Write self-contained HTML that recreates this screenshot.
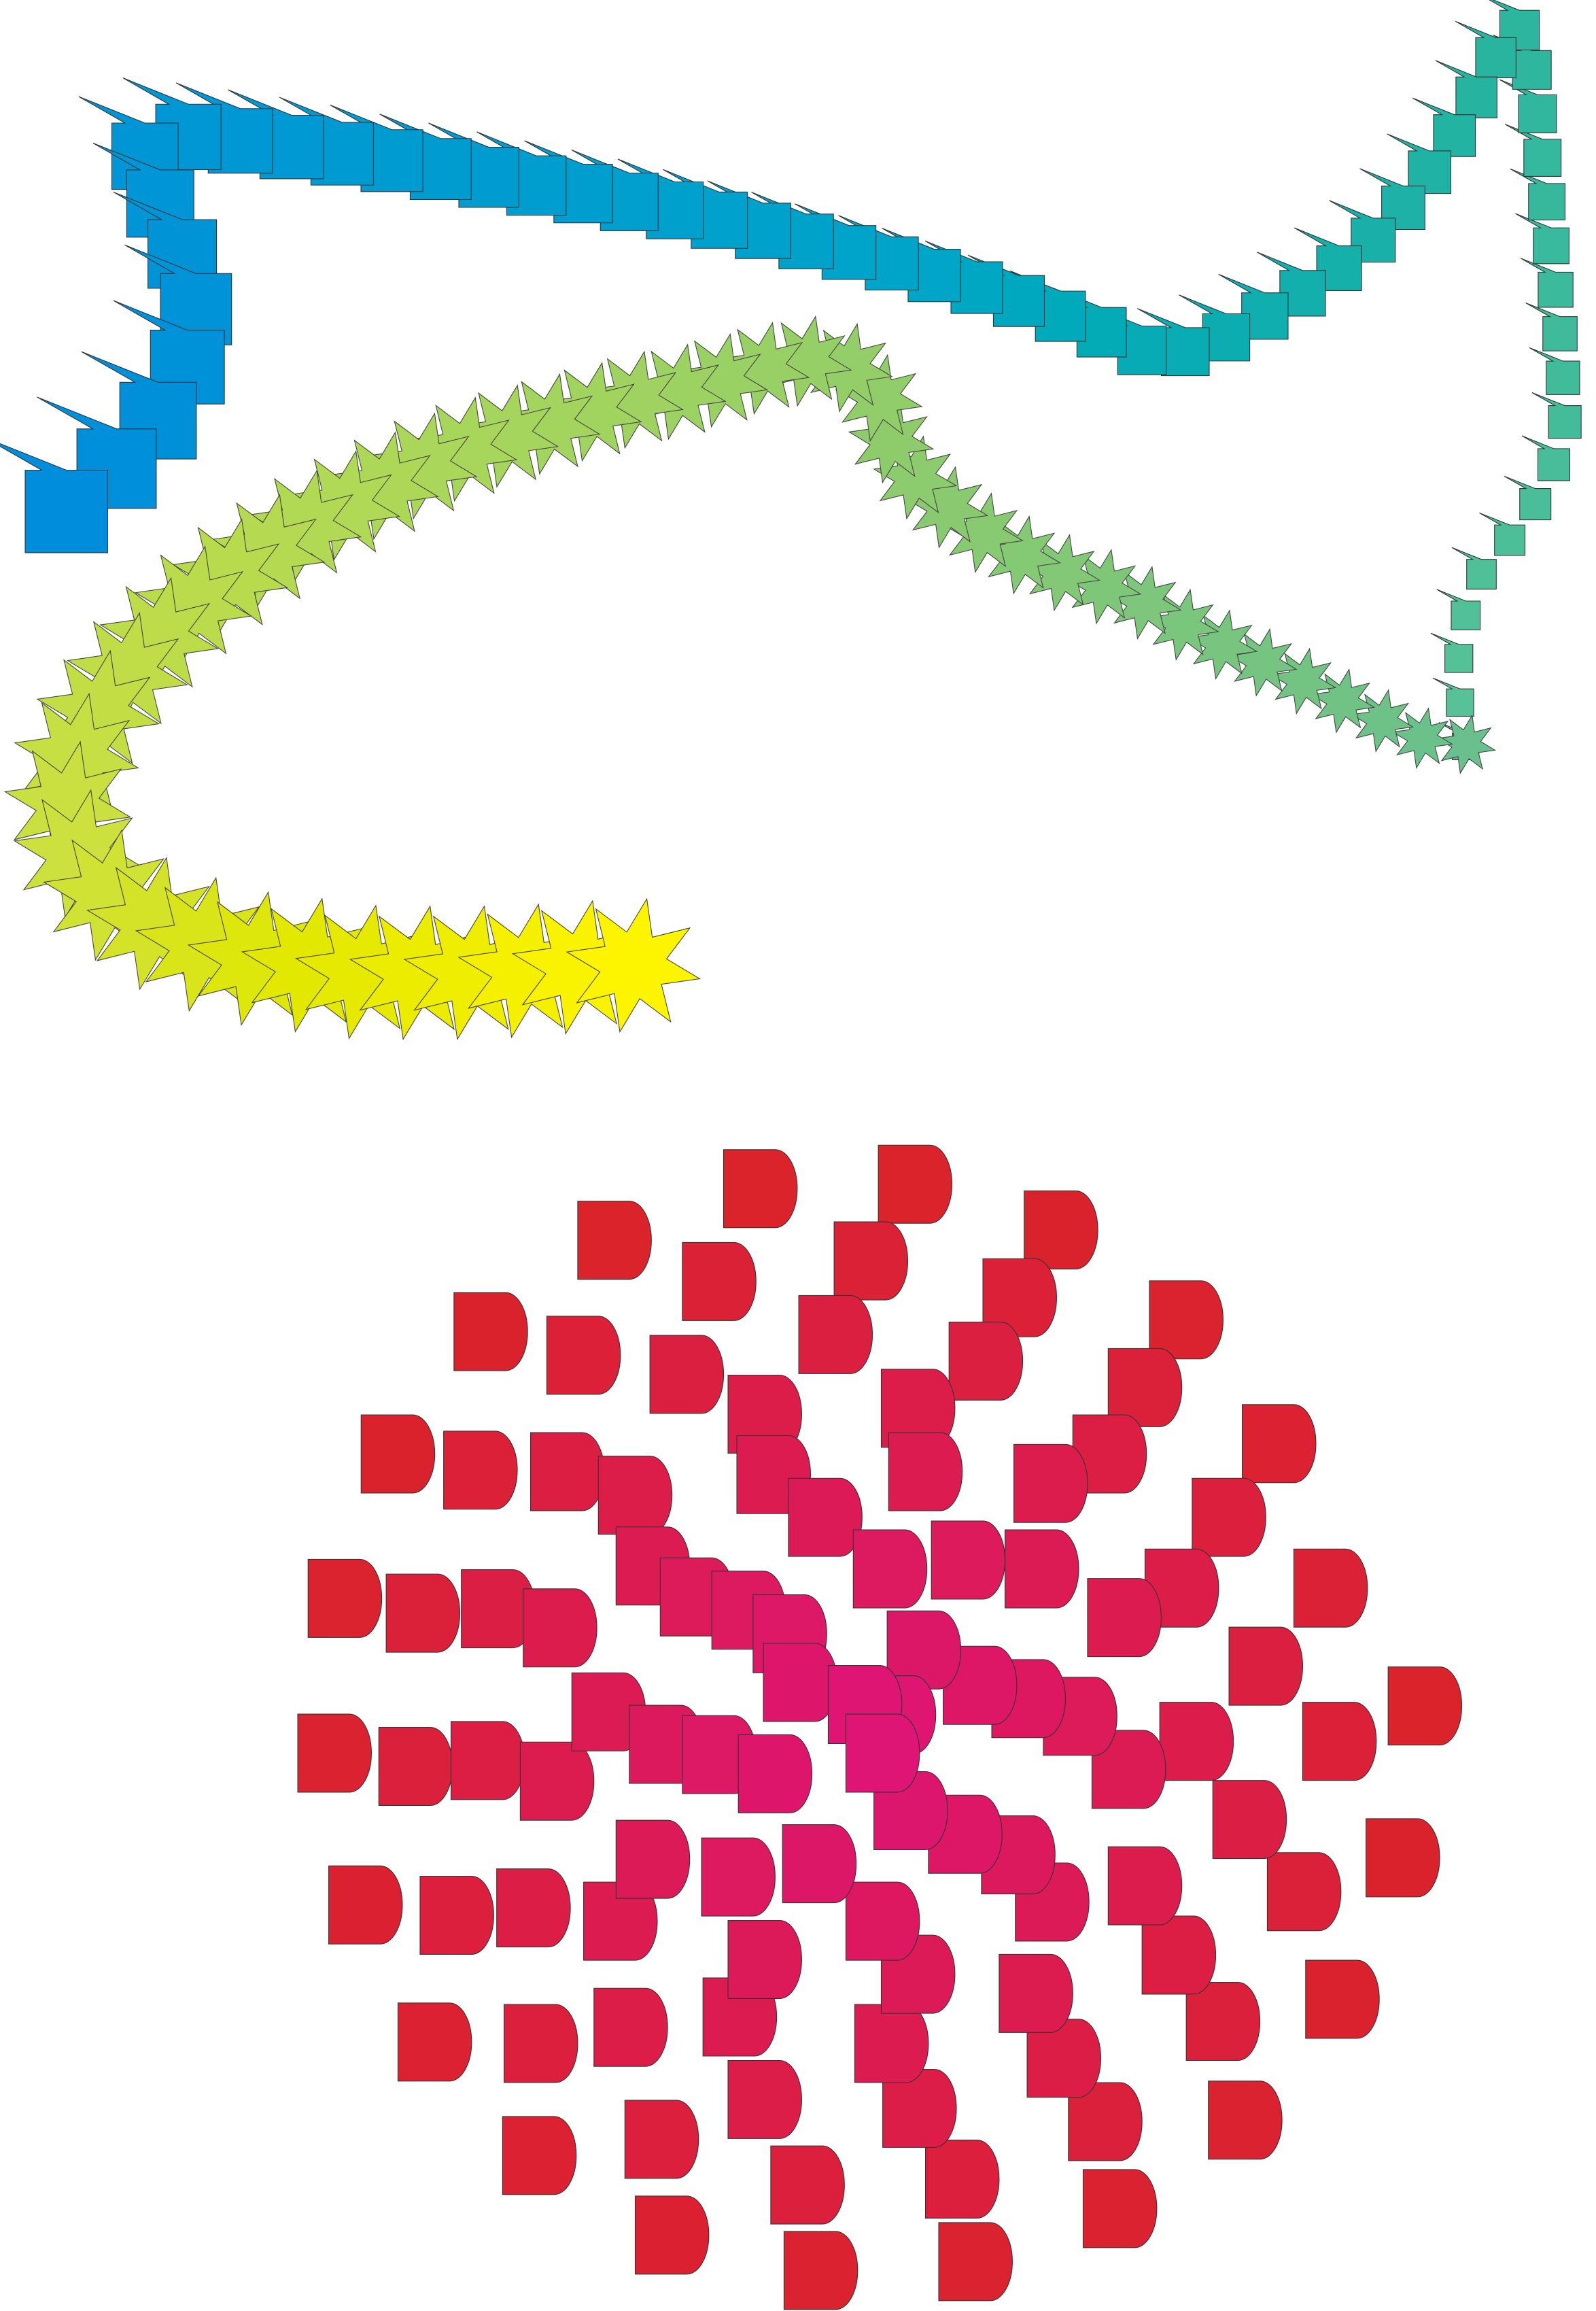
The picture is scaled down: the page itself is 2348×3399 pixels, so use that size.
<!DOCTYPE html>
<html><head><meta charset="utf-8"><title>Blend art</title>
<style>html,body{margin:0;padding:0;background:#fff;}svg{display:block;}</style></head>
<body>
<svg id="art" width="2348" height="3399" viewBox="0 0 1083 1568" xmlns="http://www.w3.org/2000/svg">
<g id="blueTrail"></g>
<g id="starTrail"></g>
<g id="dShapes"></g>
</svg>
<script>
const NS="http://www.w3.org/2000/svg";
const bluePathX=[45,72,97,118,131,133,126,112,95,110,150,200,260,330,400,470,540,610,680,740,780,815,845,875,905,930,955,975,995,1010,1025,1035,1040,1045,1050,1055,1060,1062,1050,1030,1005,990,990,995];
const bluePathY=[347,325,300,270,240,210,178,145,110,92,94,100,108,120,132,145,162,180,200,222,240,238,222,205,185,165,138,110,80,50,18,22,50,90,140,190,240,290,330,360,390,430,470,510];
const starPathX=[995,960,930,900,870,835,805,770,740,710,680,650,625,605,595,570,535,500,465,435,400,365,330,300,270,240,210,180,150,125,100,75,55,45,50,70,100,135,170,210,250,290,330,370,410,445];
const starPathY=[505,500,485,470,455,440,425,405,395,385,370,350,330,300,265,245,245,255,265,270,280,290,300,310,325,340,355,375,395,415,440,470,500,540,575,605,625,640,650,655,660,660,660,658,655,655];
const dX=[491,596,392,695,463,566,308,667,780,371,441,542,644,752,494,598,245,301,360,406,500,603,728,843,688,535,809,418,579,632,682,209,262,313,355,448,483,511,738,777,878,602,518,562,585,640,673,708,834,388,427,463,501,741,787,942,202,257,306,353,574,593,630,666,689,823,884,418,476,531,223,285,337,396,574,494,598,752,860,927,775,678,477,403,270,342,580,697,805,886,494,599,424,341,725,820,628,523,431,735,532,637];
const dY=[780,777,815,808,843,829,877,854,869,893,906,879,897,915,933,929,960,971,972,988,974,972,960,953,980,1003,1003,1036,1038,1032,1038,1058,1068,1065,1078,1057,1066,1082,1071,1051,1051,1093,1115,1130,1137,1117,1126,1138,1104,1135,1157,1164,1177,1174,1155,1131,1163,1172,1168,1182,1163,1202,1218,1232,1264,1208,1155,1235,1247,1238,1266,1273,1268,1277,1277,1303,1313,1253,1257,1234,1300,1326,1342,1349,1359,1360,1360,1370,1345,1330,1398,1404,1425,1436,1413,1412,1452,1456,1490,1472,1514,1508];

function lerp(a,b,t){return a+(b-a)*t;}
function mix(c1,c2,t){return 'rgb('+c1.map((v,i)=>Math.round(lerp(v,c2[i],t))).join(',')+')';}
function grad(stops,t){for(let i=0;i<stops.length-1;i++){if(t<=stops[i+1][0]){const u=(t-stops[i][0])/(stops[i+1][0]-stops[i][0]);return mix(stops[i][1],stops[i+1][1],u);}}const l=stops[stops.length-1][1];return mix(l,l,0);}
function walk(xs,ys,sizeFn,k,minStep){
  const seg=[];let L=0;
  for(let i=0;i<xs.length-1;i++){const d=Math.hypot(xs[i+1]-xs[i],ys[i+1]-ys[i]);seg.push(d);L+=d;}
  const at=s=>{let acc=0;for(let i=0;i<seg.length;i++){if(acc+seg[i]>=s){const u=(s-acc)/seg[i];return [lerp(xs[i],xs[i+1],u),lerp(ys[i],ys[i+1],u)];}acc+=seg[i];}return [xs[xs.length-1],ys[ys.length-1]];};
  const out=[];let s=0;
  while(s<=L){const t=s/L;const sz=sizeFn(t);const p=at(s);out.push({x:p[0],y:p[1],t,sz});s+=Math.max(minStep,sz*k);}
  return out;
}

const bg=document.getElementById('blueTrail');
const bStops=[[0,[0,142,220]],[0.45,[0,165,200]],[0.5,[0,170,185]],[0.7,[40,180,160]],[1,[90,195,150]]];
const bSize=t=>t<0.12?lerp(56,46,t/0.12):t<0.5?lerp(46,34,(t-0.12)/0.38):lerp(34,18,(t-0.5)/0.5);
const bp=walk(bluePathX,bluePathY,bSize,0.8,30);
for(let i=bp.length-1;i>=0;i--){
  const {x:cx,y:cy,t,sz:s}=bp[i];const h=s/2;
  const x0=cx-h,y0=cy-h;
  const pts=[[x0,y0],[x0+s*0.2,y0],[x0-s*0.5,y0-s*0.4],[x0+s*0.5,y0],[x0+s,y0],[x0+s,y0+s],[x0,y0+s]];
  const p=document.createElementNS(NS,'polygon');
  p.setAttribute('points',pts.map(q=>q.map(v=>v.toFixed(1)).join(',')).join(' '));
  p.setAttribute('fill',grad(bStops,t));
  p.setAttribute('stroke','#333');p.setAttribute('stroke-width','0.5');
  
  
  bg.appendChild(p);
}

const sg=document.getElementById('starTrail');
const sStops=[[0,[105,192,140]],[0.3,[145,205,105]],[0.5,[170,215,90]],[0.75,[205,225,60]],[0.85,[225,232,0]],[1,[255,245,0]]];
const sSize=t=>lerp(20,46,Math.min(1,t*1.25));
const sp=walk(starPathX,starPathY,sSize,0.8,30);
for(let i=0;i<sp.length;i++){
  const {x:cx,y:cy,t,sz:R}=sp[i];const r=R*0.5;const pts=[];
  for(let k=0;k<16;k++){const a=k*Math.PI/8-Math.PI/2+0.2;const rr=k%2?r:R;pts.push([cx+rr*Math.cos(a),cy+rr*Math.sin(a)]);}
  const p=document.createElementNS(NS,'polygon');
  p.setAttribute('points',pts.map(q=>q.map(v=>v.toFixed(1)).join(',')).join(' '));
  p.setAttribute('fill',grad(sStops,t));
  p.setAttribute('stroke','#444');p.setAttribute('stroke-width','0.5');
  
  
  sg.appendChild(p);
}

const dg=document.getElementById('dShapes');
const order=dX.map((x,i)=>i).sort((a,b)=>{const da=Math.hypot(dX[a]-560,dY[a]-1160),db=Math.hypot(dX[b]-560,dY[b]-1160);return db-da;});
for(const i of order){
  const x=dX[i],y=dY[i];const d=Math.hypot(x+25-585,y+26-1186);
  const t=Math.min(1,d/420);
  const w=35,h=53,rx=15;
  const p=document.createElementNS(NS,'path');
  p.setAttribute('d',`M${x},${y} h${w} a${rx},${h/2} 0 0 1 0,${h} h${-w} Z`);
  p.setAttribute('fill',mix([222,20,120],[218,36,36],t));
  p.setAttribute('stroke','#333');p.setAttribute('stroke-width','0.5');
  
  
  dg.appendChild(p);
}
</script>
</body></html>
